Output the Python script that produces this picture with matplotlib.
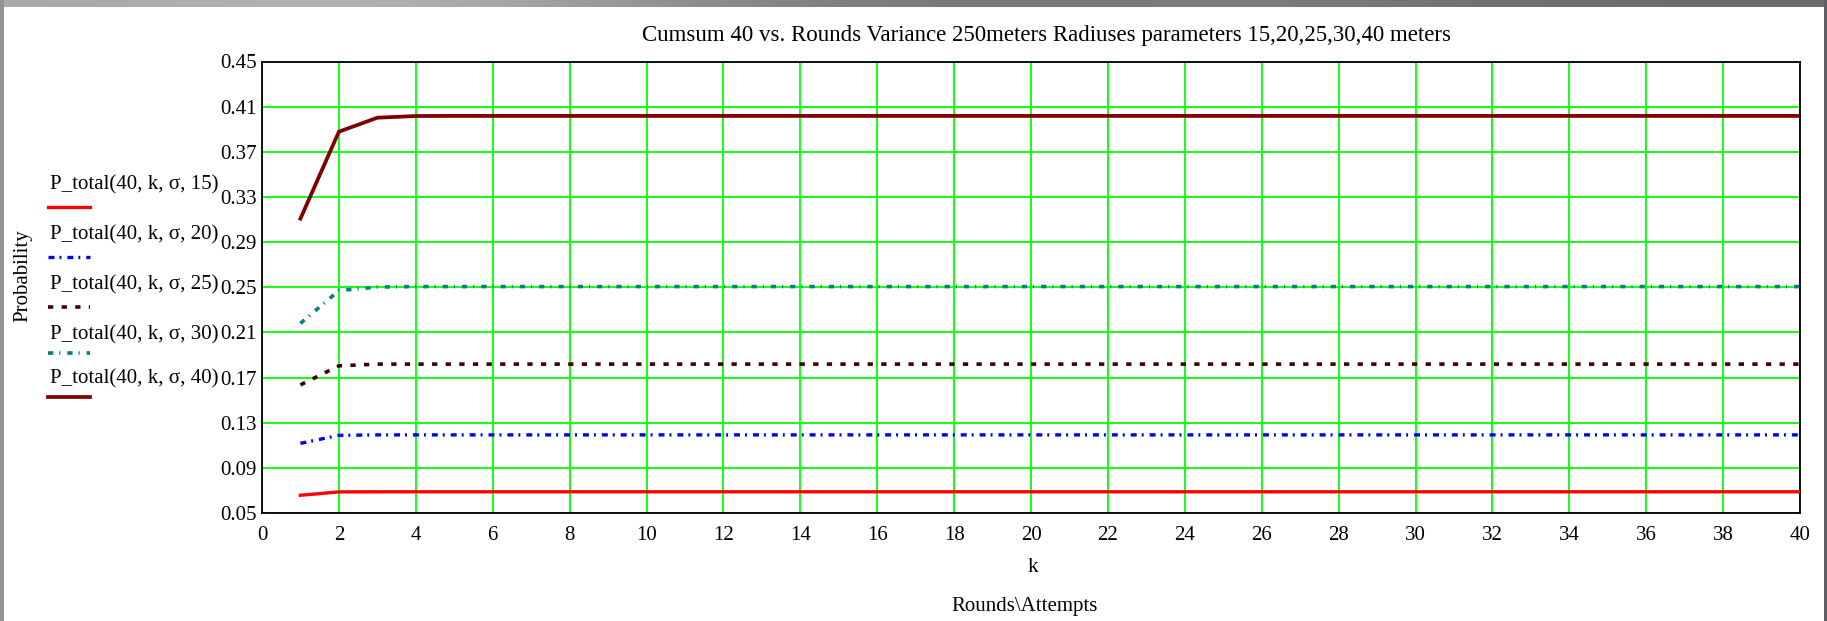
import matplotlib
matplotlib.use('Agg')
import matplotlib.pyplot as plt
from matplotlib.lines import Line2D
from matplotlib.patches import Rectangle
import numpy as np

# Cumulative probability vs. rounds, one curve per radius (meters)
k = np.arange(1, 41)
p_r15 = [0.0657, 0.0687] + [0.0688] * 38
p_r20 = [0.1117, 0.1188] + [0.1192] * 38
p_r25 = [0.1635, 0.1804, 0.1819] + [0.1819] * 37
p_r30 = [0.2180, 0.2471, 0.2502] + [0.2506] * 37
p_r40 = [0.3108, 0.3878, 0.4002, 0.4017] + [0.4018] * 36

labels = ['P_total(40, k, \u03c3, 15)', 'P_total(40, k, \u03c3, 20)',
          'P_total(40, k, \u03c3, 25)', 'P_total(40, k, \u03c3, 30)',
          'P_total(40, k, \u03c3, 40)']
series = [p_r15, p_r20, p_r25, p_r30, p_r40]

x_ticks = list(range(0, 41, 2))
y_ticks = [0.05, 0.09, 0.13, 0.17, 0.21, 0.25, 0.29, 0.33, 0.37, 0.41, 0.45]

plt.rcParams['font.family'] = ['Liberation Serif', 'DejaVu Serif']
plt.rcParams['lines.scale_dashes'] = False

styles = [
    dict(color='#ff0000', linestyle='-', lw=2.4),
    dict(color='#0000ff', linestyle=(0, (4.3, 3.6, 1.4, 4.3)), lw=2.4),
    dict(color='#400000', linestyle=(0, (3.8, 6.0)), lw=2.6),
    dict(color='#008080', linestyle=(0, (3.8, 4.3, 0.8, 5.0)), lw=2.6),
    dict(color='#800000', linestyle='-', lw=2.7),
]

W, H = 1827, 621
fs = 15
fig = plt.figure(figsize=(W / 100, H / 100), dpi=100)
ax = fig.add_axes([262 / W, 1 - 513 / H, 1538 / W, 451.5 / H])

for vals, st in zip(series, styles):
    ax.plot(k, vals, **st, zorder=3)

ax.set_xlim(0, 40)
ax.set_ylim(0.05, 0.45)
ax.set_xticks(x_ticks)
ax.set_yticks(y_ticks)
ax.set_yticklabels(['%.2f' % v for v in y_ticks])
ax.grid(True, color='#00ff00', lw=1.3, zorder=1)
ax.set_axisbelow(True)
ax.tick_params(length=0, labelsize=fs, colors='black')
ax.tick_params(axis='x', pad=9)
ax.tick_params(axis='y', pad=4)
for sp in ax.spines.values():
    sp.set_color('black')
    sp.set_linewidth(1.3)

fig.text(23 / W, 1 - 276 / H, 'Probability', fontsize=fs, rotation=90,
         ha='center', va='center')
fig.text(1033 / W, 1 - 568 / H, 'k', fontsize=fs, ha='center', va='center')
fig.text(1025 / W, 1 - 607 / H, 'Rounds\\Attempts', fontsize=fs,
         ha='center', va='center')
fig.text(1047 / W, 1 - 35 / H,
         'Cumsum 40 vs. Rounds Variance 250meters Radiuses parameters 15,20,25,30,40 meters',
         fontsize=16.5, ha='center', va='center')

# legend entries: label text with a line sample underneath
text_rows = [185, 235, 285, 335, 379]
sample_rows = [207, 257, 307, 353, 397]
for lab, st, ty, ly in zip(labels, styles, text_rows, sample_rows):
    fig.text(50 / W, 1 - ty / H, lab, fontsize=fs, ha='left', va='center')
    fig.add_artist(Line2D([48 / W, 90 / W], [1 - ly / H, 1 - ly / H],
                          transform=fig.transFigure, **st))

# window frame
grad = fig.add_axes([0, 1 - 7 / H, 1, 7 / H])
grad.imshow(np.array([[0.66, 0.72, 0.62, 0.50, 0.46, 0.50, 0.44, 0.42]]),
            cmap='gray', vmin=0, vmax=1, aspect='auto', interpolation='bicubic')
grad.set_axis_off()
fig.add_artist(Rectangle((0, 0), 4 / W, 1, transform=fig.transFigure,
                         color='#929298', lw=0))
fig.add_artist(Rectangle((1 - 3 / W, 0), 3 / W, 1, transform=fig.transFigure,
                         color='#5e5e62', lw=0))

fig.savefig('out.png', dpi=100)
